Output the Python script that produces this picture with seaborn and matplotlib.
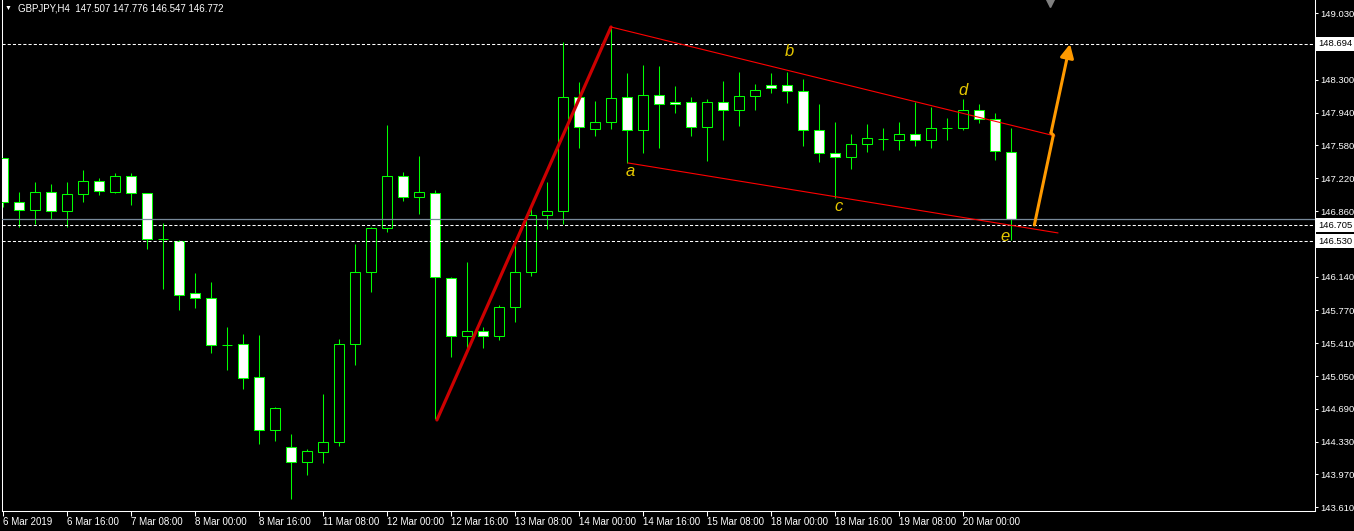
import numpy as np
import pandas as pd
import matplotlib
matplotlib.use('Agg')
import matplotlib.pyplot as plt
import seaborn as sns

# GBPJPY H4 candles, 6 Mar 2019 00:00 -> 20 Mar 2019 12:00
opens = [147.440, 146.956, 146.869, 147.066, 146.858, 147.044, 147.187, 147.073, 147.242, 147.055,
         146.551, 146.535, 145.958, 145.903, 145.394, 145.398, 145.036, 144.455, 144.268, 144.104,
         144.213, 144.323, 145.398, 146.188, 146.671, 147.242, 147.011, 147.055, 146.123, 145.490,
         145.548, 145.490, 145.804, 146.188, 146.814, 146.858, 148.109, 147.764, 147.834, 148.109,
         147.746, 148.130, 148.060, 148.054, 147.779, 148.054, 147.973, 148.120, 148.240, 148.240,
         148.174, 147.746, 147.494, 147.450, 147.593, 147.651, 147.643, 147.703, 147.637, 147.768,
         147.768, 147.966, 147.867, 147.507]
highs = [147.445, 147.066, 147.179, 147.157, 147.179, 147.311, 147.223, 147.278, 147.278, 147.060,
         146.726, 146.540, 146.177, 146.082, 145.588, 145.511, 145.500, 144.710, 144.414, 144.250,
         144.850, 145.453, 146.496, 146.689, 147.805, 147.289, 147.465, 147.091, 146.140, 146.305,
         145.592, 145.826, 146.543, 146.891, 147.176, 148.719, 148.276, 148.068, 148.869, 148.378,
         148.463, 148.452, 148.232, 148.115, 148.087, 148.287, 148.386, 148.254, 148.372, 148.386,
         148.306, 148.035, 147.838, 147.706, 147.816, 147.768, 147.838, 148.054, 148.005, 147.881,
         148.087, 148.035, 147.933, 147.776]
lows = [146.908, 146.689, 146.718, 146.770, 146.689, 146.963, 147.040, 147.062, 146.930, 146.447,
        146.008, 145.775, 145.800, 145.306, 145.116, 144.911, 144.308, 144.341, 143.704, 143.968,
        144.099, 144.286, 145.171, 145.976, 146.634, 146.974, 146.825, 144.576, 145.262, 145.336,
        145.355, 145.446, 145.646, 146.151, 146.660, 146.718, 147.549, 147.687, 147.757, 147.391,
        147.501, 147.556, 147.940, 147.687, 147.413, 147.643, 147.794, 147.969, 148.159, 148.049,
        147.574, 147.402, 147.007, 147.325, 147.512, 147.530, 147.530, 147.574, 147.556, 147.643,
        147.753, 147.827, 147.424, 146.547]
closes = [146.956, 146.869, 147.066, 146.858, 147.044, 147.187, 147.077, 147.242, 147.055, 146.551,
          146.553, 145.936, 145.903, 145.387, 145.392, 145.032, 144.455, 144.696, 144.104, 144.224,
          144.323, 145.398, 146.188, 146.671, 147.242, 147.011, 147.066, 146.134, 145.486, 145.548,
          145.490, 145.804, 146.188, 146.814, 146.858, 148.109, 147.779, 147.834, 148.098, 147.746,
          148.130, 148.032, 148.035, 147.779, 148.054, 147.973, 148.120, 148.185, 148.214, 148.174,
          147.746, 147.494, 147.450, 147.593, 147.659, 147.653, 147.703, 147.637, 147.768, 147.770,
          147.966, 147.870, 147.516, 146.772]

time_labels = ['6 Mar 2019', '6 Mar 16:00', '7 Mar 08:00', '8 Mar 00:00', '8 Mar 16:00',
               '11 Mar 08:00', '12 Mar 00:00', '12 Mar 16:00', '13 Mar 08:00', '14 Mar 00:00',
               '14 Mar 16:00', '15 Mar 08:00', '18 Mar 00:00', '18 Mar 16:00', '19 Mar 08:00',
               '20 Mar 00:00']
price_ticks = [143.610, 143.970, 144.330, 144.690, 145.050, 145.410, 145.770, 146.140,
               146.500, 146.860, 147.220, 147.580, 147.940, 148.300, 148.660, 149.030]
level_prices = [148.694, 146.705, 146.530]
bid_price = 146.772

# drawn objects (bar index, price)
impulse_x = [27.1, 37.98]
impulse_y = [144.568, 148.880]
upper_x = [37.98, 65.73]
upper_y = [148.880, 147.684]
lower_x = [39.04, 65.92]
lower_y = [147.388, 146.620]
arrow_x = [64.44, 65.63, 65.48]
arrow_y = [146.707, 147.695, 147.717]
arrow_tip = [66.67, 148.693]
wave_labels = ['a', 'b', 'c', 'd', 'e']
wave_x = [39.2, 49.1, 52.2, 60.0, 62.6]
wave_y = [147.289, 148.616, 146.905, 148.178, 146.576]

df = pd.DataFrame({'open': opens, 'high': highs, 'low': lows, 'close': closes})
df['bar'] = np.arange(len(df))
df['bull'] = df['close'] >= df['open']
df['body_low'] = df[['open', 'close']].min(axis=1)
df['body_h'] = (df['close'] - df['open']).abs().clip(lower=0.001)

sns.set_theme(style='dark', rc={
    'axes.facecolor': 'black', 'figure.facecolor': 'black',
    'axes.edgecolor': 'white', 'axes.grid': False,
    'xtick.color': 'white', 'ytick.color': 'white', 'text.color': 'white',
})
plt.rcParams['font.family'] = ['Liberation Sans', 'DejaVu Sans']

W, H = 1354, 531
fig = plt.figure(figsize=(W / 100, H / 100), dpi=100)
ax = fig.add_axes([2.3 / W, 20 / H, 1312.7 / W, 511 / H])

green = '#00FF00'
# candles
ax.vlines(df['bar'], df['low'], df['high'], color=green, lw=0.75, zorder=2)
ax.bar(df['bar'], df['body_h'], bottom=df['body_low'], width=0.62,
       color=np.where(df['bull'], 'black', 'white'), edgecolor=green,
       linewidth=0.75, zorder=3)

# levels
for p in level_prices:
    ax.axhline(p, color='white', lw=0.75, ls=(0, (3, 2)), zorder=4)
ax.axhline(bid_price, color='#778899', lw=0.9, zorder=4)

# trendlines
sns.lineplot(x=impulse_x, y=impulse_y, color='#CC0000', lw=2.3, ax=ax, zorder=6)
sns.lineplot(x=upper_x, y=upper_y, color='#FF0000', lw=0.8, ax=ax, zorder=6)
sns.lineplot(x=lower_x, y=lower_y, color='#FF0000', lw=0.8, ax=ax, zorder=6)
sns.lineplot(x=arrow_x, y=arrow_y, color='#FF9A00', lw=2.2, sort=False,
             estimator=None, ax=ax, zorder=7)
ax.annotate('', xy=(arrow_tip[0], arrow_tip[1]), xytext=(arrow_x[-1], arrow_y[-1]),
            arrowprops=dict(arrowstyle='-|>', color='#FF9A00', lw=2.2,
                            mutation_scale=20, shrinkA=0, shrinkB=0), zorder=7)

for s, x, y in zip(wave_labels, wave_x, wave_y):
    ax.text(x, y, s, color='#E6C800', fontsize=12, style='italic',
            ha='center', va='center', zorder=8)

# little shift marker at the top
ax.plot([65.4], [149.14], marker='v', color='#808080', ms=6, clip_on=False, zorder=9)

ax.set_xlim(-0.0625, 81.98)
ax.set_ylim(143.569, 149.176)

ax.set_xticks(np.arange(0, 4 * len(time_labels), 4))
ax.set_xticklabels(time_labels)
plt.setp(ax.get_xticklabels(), ha='left')
ax.tick_params(axis='x', bottom=True, direction='out', length=3.5, width=0.75,
               pad=1.0, labelsize=7, colors='white')

ax.yaxis.tick_right()
ax.set_yticks(price_ticks)
ax.set_yticklabels([f'{v:.3f}' for v in price_ticks])
ax.tick_params(axis='y', right=True, direction='out', length=2.5, width=0.75,
               pad=1.5, labelsize=6.8, colors='white')

ax.spines['top'].set_visible(False)
for side in ['left', 'right', 'bottom']:
    ax.spines[side].set_color('white')
    ax.spines[side].set_linewidth(0.75)

for p in level_prices:
    ax.text(1.0025, p, f'{p:.3f}', transform=ax.get_yaxis_transform(), ha='left',
            va='center', color='black', fontsize=6.8, zorder=10, clip_on=False,
            bbox=dict(boxstyle='square,pad=0.25', fc='white', ec='none'))

fig.text(5 / W, 1 - 8.5 / H, '▼', fontsize=5, color='white', va='center')
fig.text(18 / W, 1 - 8.5 / H, 'GBPJPY,H4  147.507 147.776 146.547 146.772',
         fontsize=7, color='white', va='center')

fig.savefig('out.png', dpi=100, facecolor='black')
